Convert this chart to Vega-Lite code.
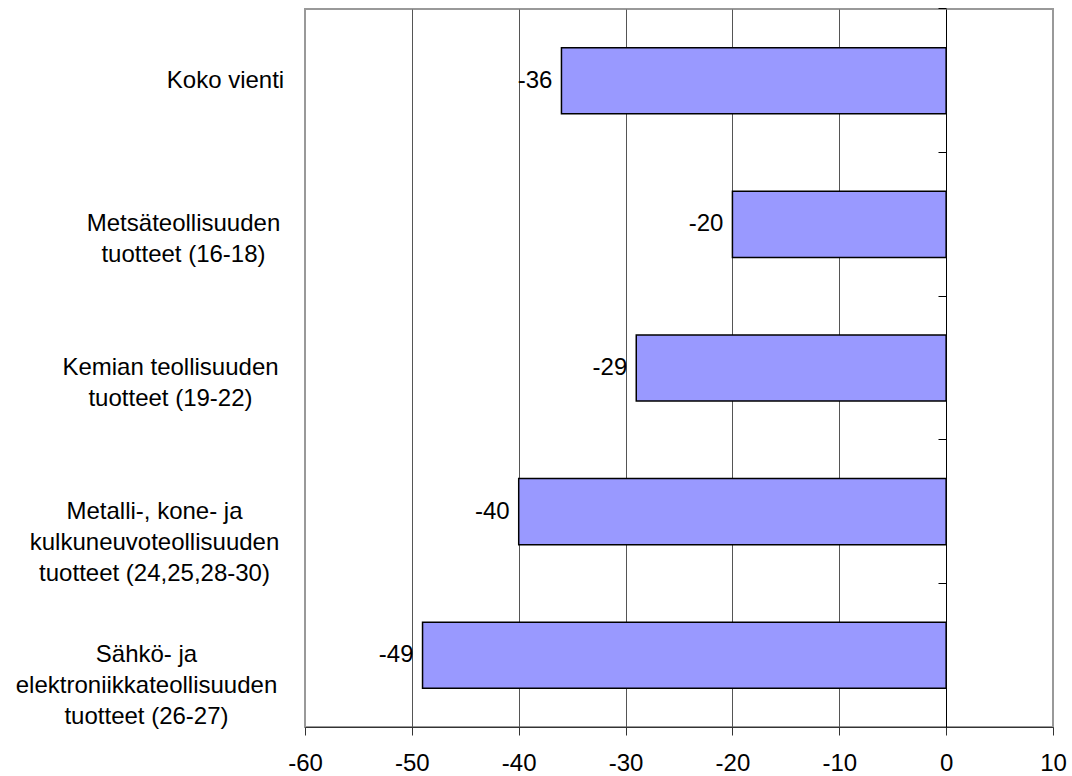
{
  "$schema": "https://vega.github.io/schema/vega-lite/v6.json",
  "width": 748,
  "height": 718,
  "autosize": {"type": "none"},
  "padding": {"left": 305, "top": 9, "right": 19, "bottom": 49},
  "background": "white",
  "data": {
    "values": [
      {"category": "Koko vienti", "value": -36},
      {"category": "Metsäteollisuuden\ntuotteet (16-18)", "value": -20},
      {"category": "Kemian teollisuuden\ntuotteet (19-22)", "value": -29},
      {"category": "Metalli-, kone- ja\nkulkuneuvoteollisuuden\ntuotteet (24,25,28-30)", "value": -40},
      {"category": "Sähkö- ja\nelektroniikkateollisuuden\ntuotteet (26-27)", "value": -49}
    ]
  },
  "encoding": {
    "y": {
      "field": "category",
      "type": "nominal",
      "sort": null,
      "title": null,
      "scale": {"paddingInner": 0.54, "paddingOuter": 0.27},
      "axis": {
        "orient": "left",
        "offset": -641,
        "domainColor": "black",
        "domainWidth": 1,
        "ticks": true,
        "tickColor": "black",
        "tickSize": 8,
        "tickWidth": 1,
        "bandPosition": -0.587,
        "labelAlign": "center",
        "labelBaseline": "middle",
        "labelFont": "Liberation Sans",
        "labelFontSize": 24,
        "labelColor": "black",
        "labelLineHeight": 31,
        "labelLimit": 0,
        "labelExpr": "split(datum.label, '\\n')",
        "labelPadding": {
          "condition": [
            {"test": "indexof(datum.value, 'Koko') >= 0", "value": 713},
            {"test": "indexof(datum.value, 'Mets') >= 0", "value": 755},
            {"test": "indexof(datum.value, 'Kemian') >= 0", "value": 768},
            {"test": "indexof(datum.value, 'Metalli') >= 0", "value": 784}
          ],
          "value": 792
        }
      }
    },
    "x": {
      "field": "value",
      "type": "quantitative",
      "title": null,
      "scale": {"domain": [-60, 10], "nice": false, "zero": false},
      "axis": {
        "values": [-60, -50, -40, -30, -20, -10, 0, 10],
        "grid": true,
        "gridColor": {
          "condition": {"test": "datum.value == 10 || datum.value == -60 || datum.value == 0", "value": "transparent"},
          "value": "#555555"
        },
        "gridWidth": 1,
        "domainColor": "#333333",
        "tickColor": "#333333",
        "tickSize": 8,
        "labelFont": "Liberation Sans",
        "labelFontSize": 24,
        "labelColor": "black",
        "labelPadding": 16,
        "labelFlush": false,
        "labelExpr": "'' + datum.value"
      }
    }
  },
  "layer": [
    {
      "mark": {"type": "bar", "fill": "#9999FF", "stroke": "black", "strokeWidth": 1.5}
    },
    {
      "mark": {
        "type": "text",
        "align": "right",
        "baseline": "middle",
        "dx": -9,
        "font": "Liberation Sans",
        "fontSize": 24,
        "color": "black"
      },
      "encoding": {"text": {"field": "value", "type": "nominal"}}
    }
  ],
  "config": {
    "view": {"stroke": "#999999", "strokeWidth": 2}
  }
}
